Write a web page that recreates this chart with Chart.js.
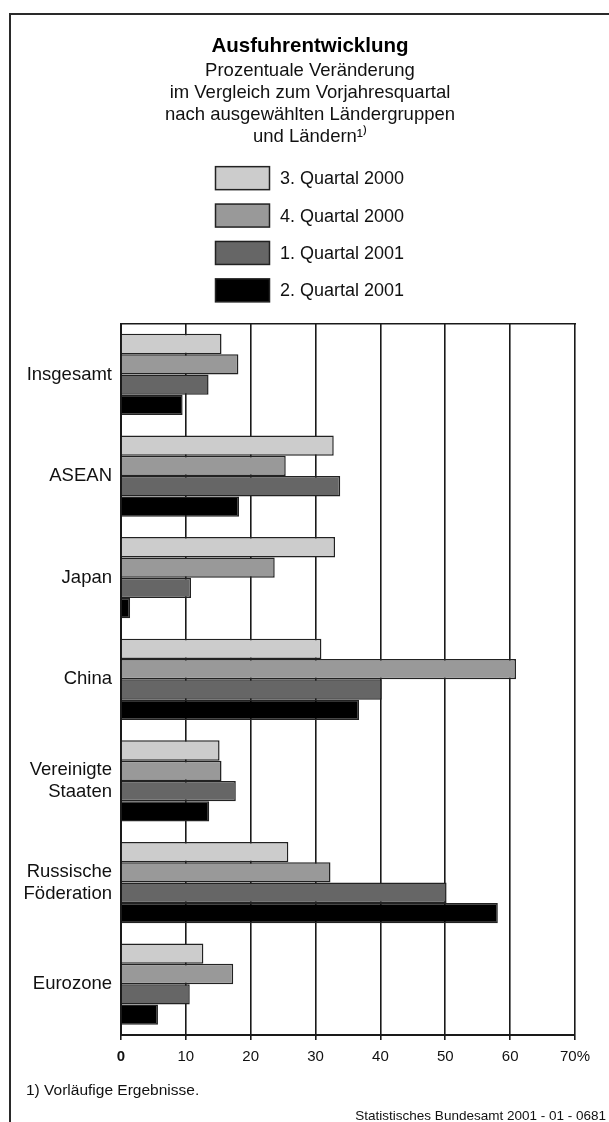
<!DOCTYPE html>
<html lang="de">
<head>
<meta charset="utf-8">
<title>Ausfuhrentwicklung</title>
<script src="https://cdn.jsdelivr.net/npm/chart.js@4.4.1/dist/chart.umd.min.js"></script>
<style>
  html, body { margin: 0; padding: 0; background: #fff; }
  body { width: 609px; height: 1122px; position: relative; overflow: hidden; font-family: "Liberation Sans", Arial, sans-serif; }
  #frame { position: absolute; left: 9px; top: 13px; width: 700px; height: 1200px; border-top: 2px solid #2a2a2a; border-left: 2px solid #2a2a2a; }
  #chartBox { position: absolute; left: 0; top: 0; width: 609px; height: 1122px; }
  .note { position: absolute; color: #111; white-space: nowrap; }
  #footnote { left: 26px; top: 1081px; font-size: 15.5px; line-height: 18px; }
  #source { right: 3px; top: 1108px; font-size: 13.5px; line-height: 16px; }
</style>
</head>
<body>
<div id="frame"></div>
<div id="chartBox"><canvas id="exportChart" width="609" height="1122"></canvas></div>
<div class="note" id="footnote">1) Vorläufige Ergebnisse.</div>
<div class="note" id="source">Statistisches Bundesamt 2001 - 01 - 0681</div>
<script>
const categories = ['Insgesamt', 'ASEAN', 'Japan', 'China', ['Vereinigte', 'Staaten'], ['Russische', 'Föderation'], 'Eurozone'];
const seriesNames = ['3. Quartal 2000', '4. Quartal 2000', '1. Quartal 2001', '2. Quartal 2001'];
const q3_2000 = [15.5, 32.8, 33.0, 30.9, 15.2, 25.8, 12.7];
const q4_2000 = [18.1, 25.4, 23.7, 60.9, 15.5, 32.3, 17.3];
const q1_2001 = [13.5, 33.8, 10.8, 40.2, 17.7, 50.2, 10.6];
const q2_2001 = [9.5, 18.2, 1.4, 36.7, 13.6, 58.1, 5.7];
const xTicks = [0, 10, 20, 30, 40, 50, 60, 70];
const seriesColors = ['#cccccc', '#999999', '#666666', '#000000'];

const FONT = '"Liberation Sans", Arial, Helvetica, sans-serif';
Chart.defaults.font.family = FONT;
Chart.defaults.color = '#111';

// legend as a stacked column of boxes under the subtitle
const boxLegend = {
    id: 'boxLegend',
    afterDraw(chart) {
        const ctx = chart.ctx;
        const tb = chart.titleBlock;
        const cx = tb ? (tb.left + tb.right) / 2 : chart.width / 2;
        const top0 = chart.chartArea.top - 157;
        ctx.save();
        ctx.font = '18px ' + FONT;
        ctx.textBaseline = 'middle';
        ctx.textAlign = 'left';
        chart.data.datasets.forEach((ds, i) => {
            const x = cx - 94.5;
            const y = top0 + i * 37.4;
            ctx.fillStyle = ds.backgroundColor;
            ctx.fillRect(x, y, 54, 23);
            ctx.lineWidth = 1.5;
            ctx.strokeStyle = '#222';
            ctx.strokeRect(x, y, 54, 23);
            ctx.fillStyle = '#111';
            ctx.fillText(ds.label, x + 64.5, y + 12.5);
        });
        ctx.restore();
    }
};

const allSeries = [q3_2000, q4_2000, q1_2001, q2_2001];

new Chart(document.getElementById('exportChart'), {
    type: 'bar',
    data: {
        labels: categories,
        datasets: allSeries.map((values, i) => ({
            label: seriesNames[i],
            data: values,
            backgroundColor: seriesColors[i],
            borderColor: '#222',
            borderWidth: 1.5,
            categoryPercentage: 0.8,
            barPercentage: 1.0
        }))
    },
    options: {
        indexAxis: 'y',
        responsive: false,
        animation: false,
        layout: {
            padding: { left: 11, right: 0, top: 0, bottom: 48 }
        },
        scales: {
            x: {
                position: 'bottom',
                min: 0,
                max: 70,
                afterBuildTicks: scale => { scale.ticks = xTicks.map(v => ({ value: v })); },
                grid: { color: '#1a1a1a', lineWidth: 1.6, tickLength: 5, drawTicks: true },
                border: { display: true, color: '#1a1a1a', width: 2 },
                ticks: {
                    padding: 8,
                    color: '#111',
                    font: ctx => ({ size: 15, weight: ctx.tick && ctx.tick.value === 0 ? 'bold' : 'normal' }),
                    callback: v => v === 70 ? '70%' : String(v)
                }
            },
            xTop: {
                type: 'linear',
                position: 'top',
                min: 0,
                max: 70,
                grid: { display: false, drawTicks: false },
                ticks: { display: false },
                border: { display: true, color: '#1a1a1a', width: 1.6 }
            },
            y: {
                afterFit: scale => { scale.width = 110; },
                grid: { display: false, drawTicks: false },
                border: { display: true, color: '#1a1a1a', width: 2 },
                ticks: {
                    padding: 9,
                    color: '#111',
                    font: { size: 18.5, lineHeight: 1.19 }
                }
            },
            // empty right-hand axis, only keeps space free on the right
            yRight: {
                type: 'linear',
                position: 'right',
                min: 0,
                max: 1,
                afterFit: scale => { scale.width = 34; },
                grid: { display: false, drawTicks: false },
                ticks: { display: false },
                border: { display: false }
            }
        },
        plugins: {
            legend: { display: false },
            tooltip: { enabled: false },
            title: {
                display: true,
                text: 'Ausfuhrentwicklung',
                color: '#000',
                font: { size: 20.5, weight: 'bold', lineHeight: 1.2 },
                padding: { top: 34, bottom: 0 }
            },
            subtitle: {
                display: true,
                text: ['Prozentuale Veränderung', 'im Vergleich zum Vorjahresquartal', 'nach ausgewählten Ländergruppen', 'und Ländern¹⁾'],
                color: '#111',
                font: { size: 18.5, lineHeight: 1.19 },
                padding: { top: 1, bottom: 176 }
            }
        }
    },
    plugins: [boxLegend]
});
</script>
</body>
</html>
